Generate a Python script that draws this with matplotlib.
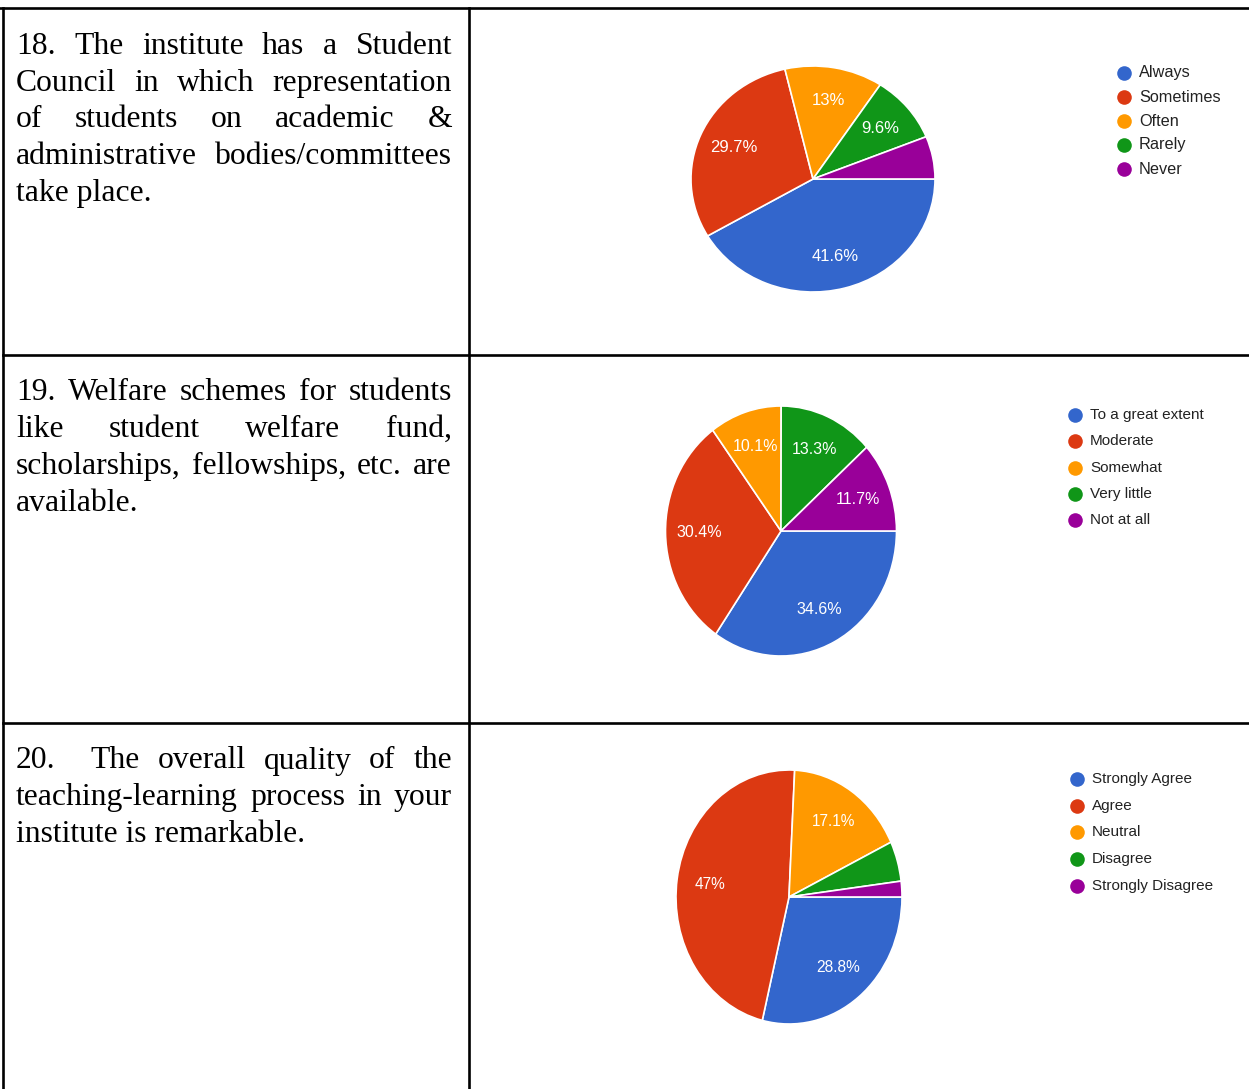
import matplotlib
matplotlib.use('Agg')
import matplotlib.pyplot as plt

W, H = 1249, 1089

# question texts, one entry per table row (line breaks as in the document)
questions = [
    ["18. The institute has a Student",
     "Council in which representation",
     "of students on academic &",
     "administrative bodies/committees",
     "take place."],
    ["19. Welfare schemes for students",
     "like student welfare fund,",
     "scholarships, fellowships, etc. are",
     "available."],
    ["20.  The overall quality of the",
     "teaching-learning process in your",
     "institute is remarkable."],
]

labels_18 = ["Always", "Sometimes", "Often", "Rarely", "Never"]
values_18 = [41.6, 29.7, 13.0, 9.6, 6.1]

labels_19 = ["To a great extent", "Moderate", "Somewhat", "Very little", "Not at all"]
values_19 = [34.6, 30.4, 10.1, 13.3, 11.7]

labels_20 = ["Strongly Agree", "Agree", "Neutral", "Disagree", "Strongly Disagree"]
values_20 = [28.8, 47.0, 17.1, 5.1, 2.0]

colors = ['#3366cc', '#dc3912', '#ff9900', '#109618', '#990099']

# layout in pixels (pie centre / radii, legend anchor, font sizes)
panels = [
    dict(labels=labels_18, values=values_18, cx=813, cy=179, rx=122, ry=113,
         lx=1124, ly=73, ldy=24, lfs=11.7, pfs=12.0, top=8),
    dict(labels=labels_19, values=values_19, cx=781, cy=531, rx=115.5, ry=125,
         lx=1075, ly=415, ldy=26.3, lfs=11.0, pfs=11.5, top=354.5),
    dict(labels=labels_20, values=values_20, cx=789, cy=897, rx=113, ry=127,
         lx=1077, ly=779, ldy=26.7, lfs=11.0, pfs=11.2, top=722.5),
]

fig = plt.figure(figsize=(W / 100, H / 100), dpi=100)
fig.patch.set_facecolor('white')
bg = fig.add_axes([0, 0, 1, 1])
bg.set_xlim(0, W)
bg.set_ylim(H, 0)
bg.axis('off')

# table grid
lw = 1.9
bg.plot([0, W], [8, 8], color='black', lw=lw)
bg.plot([3, 3], [8, H], color='black', lw=lw)
bg.plot([469.5, 469.5], [8, H], color='black', lw=lw)
for p in panels[1:]:
    bg.plot([3, W], [p['top'], p['top']], color='black', lw=lw)

fig.canvas.draw()
rend = fig.canvas.get_renderer()
serif = dict(family='Liberation Serif', fontsize=22.8, color='black')
x0, x1 = 16, 452
line_h = 36.7


def text_w(s):
    t = bg.text(0, 0, s, **serif)
    w = t.get_window_extent(renderer=rend).width
    t.remove()
    return w


# justified paragraphs
for p, lines in zip(panels, questions):
    y = p['top'] + 46
    for i, line in enumerate(lines):
        if i == len(lines) - 1:
            bg.text(x0, y, line, va='baseline', ha='left', **serif)
        else:
            words = line.split(' ')
            widths = [text_w(w) if w else 0 for w in words]
            gap = (x1 - x0 - sum(widths)) / (len(words) - 1)
            x = x0
            for w, ww in zip(words, widths):
                if w:
                    bg.text(x, y, w, va='baseline', ha='left', **serif)
                x += ww + gap
        y += line_h


def fmt(pct):
    if pct < 7:
        return ''
    return ('%.1f' % pct).rstrip('0').rstrip('.') + '%'


for p in panels:
    ax = fig.add_axes([(p['cx'] - p['rx']) / W, 1 - (p['cy'] + p['ry']) / H,
                       2 * p['rx'] / W, 2 * p['ry'] / H])
    wedges, texts, autotexts = ax.pie(
        p['values'], colors=colors, startangle=0, counterclock=False,
        autopct=fmt, pctdistance=0.71,
        wedgeprops=dict(edgecolor='white', linewidth=1.2),
        textprops=dict(color='white', family='Liberation Sans', fontsize=p['pfs']))
    ax.set_aspect('auto')
    ax.set_xlim(-1, 1)
    ax.set_ylim(-1, 1)
    for w in wedges:
        w.set_clip_on(False)

    # legend
    for i, (lab, c) in enumerate(zip(p['labels'], colors)):
        y = p['ly'] + i * p['ldy']
        bg.plot(p['lx'], y, 'o', color=c, markersize=10.5, markeredgewidth=0)
        bg.text(p['lx'] + 15, y, lab, va='center', ha='left', color='#222222',
                family='Liberation Sans', fontsize=p['lfs'])

fig.savefig('out.png', dpi=100)
